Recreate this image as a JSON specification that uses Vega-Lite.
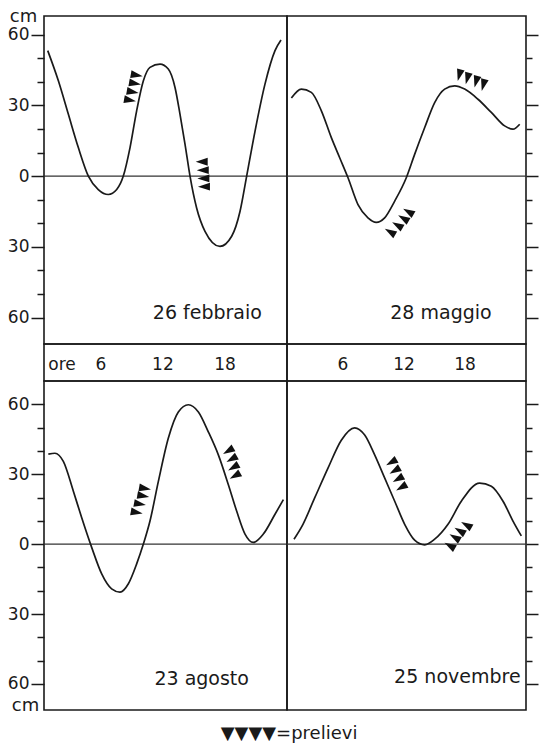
{
 "$schema": "https://vega.github.io/schema/vega-lite/v6.json",
 "background": "white",
 "padding": {"left": 6, "top": 6, "right": 5, "bottom": 4},
 "columns": 2,
 "spacing": 0,
 "bounds": "flush",
 "align": "each",
 "title": {"text": "▼▼▼▼=prelievi", "orient": "bottom", "anchor": "middle", "fontSize": 18, "fontWeight": "normal", "font": "DejaVu Sans", "offset": 10, "dx": 16, "color": "#1a1a1a"},
 "datasets": {
  "tide": [
   {"p":"feb","h":0.86,"v":53.2},{"p":"feb","h":1.89,"v":40.4},{"p":"feb","h":2.85,"v":26.3},{"p":"feb","h":3.82,"v":12.1},{"p":"feb","h":4.79,"v":0},{"p":"feb","h":5.75,"v":-5.7},{"p":"feb","h":6.72,"v":-7.8},{"p":"feb","h":7.53,"v":-5.7},{"p":"feb","h":8.17,"v":0},{"p":"feb","h":8.82,"v":12.1},{"p":"feb","h":9.46,"v":27.7},{"p":"feb","h":10.11,"v":40.4},{"p":"feb","h":10.75,"v":46.1},{"p":"feb","h":11.72,"v":47.5},{"p":"feb","h":12.52,"v":45.4},{"p":"feb","h":13.17,"v":37.6},{"p":"feb","h":13.65,"v":26.3},{"p":"feb","h":14.14,"v":13.5},{"p":"feb","h":14.62,"v":0},{"p":"feb","h":15.26,"v":-13.5},{"p":"feb","h":16.07,"v":-23.4},{"p":"feb","h":17.52,"v":-29.8},{"p":"feb","h":18.65,"v":-25.5},{"p":"feb","h":19.46,"v":-14.9},{"p":"feb","h":20.1,"v":0},{"p":"feb","h":20.91,"v":19.1},{"p":"feb","h":21.87,"v":39.0},{"p":"feb","h":22.84,"v":53.2},{"p":"feb","h":23.42,"v":57.7},
   {"p":"may","h":0.93,"v":33.1},{"p":"may","h":1.91,"v":36.9},{"p":"may","h":2.89,"v":35.5},{"p":"may","h":3.88,"v":27.7},{"p":"may","h":4.86,"v":16.3},{"p":"may","h":5.68,"v":7.8},{"p":"may","h":6.5,"v":-0.7},{"p":"may","h":7.48,"v":-12.1},{"p":"may","h":8.46,"v":-17.7},{"p":"may","h":9.28,"v":-19.6},{"p":"may","h":10.1,"v":-17.7},{"p":"may","h":11.09,"v":-10.6},{"p":"may","h":12.23,"v":-0.7},{"p":"may","h":13.05,"v":9.2},{"p":"may","h":14.04,"v":20.6},{"p":"may","h":15.02,"v":31.2},{"p":"may","h":16.0,"v":36.9},{"p":"may","h":16.99,"v":38.3},{"p":"may","h":17.97,"v":36.9},{"p":"may","h":19.28,"v":32.6},{"p":"may","h":20.59,"v":27.0},{"p":"may","h":21.9,"v":21.3},{"p":"may","h":22.72,"v":19.9},{"p":"may","h":23.38,"v":22.0},
   {"p":"aug","h":0.92,"v":38.6},{"p":"aug","h":1.56,"v":39.0},{"p":"aug","h":2.37,"v":35.5},{"p":"aug","h":3.34,"v":22.7},{"p":"aug","h":4.14,"v":11.4},{"p":"aug","h":5.11,"v":-1.4},{"p":"aug","h":6.08,"v":-12.8},{"p":"aug","h":7.04,"v":-19.2},{"p":"aug","h":7.85,"v":-20.6},{"p":"aug","h":8.66,"v":-17.0},{"p":"aug","h":9.46,"v":-8.5},{"p":"aug","h":10.11,"v":0},{"p":"aug","h":10.75,"v":9.9},{"p":"aug","h":11.56,"v":26.9},{"p":"aug","h":12.52,"v":45.4},{"p":"aug","h":13.49,"v":56.7},{"p":"aug","h":14.46,"v":59.8},{"p":"aug","h":15.43,"v":56.7},{"p":"aug","h":16.39,"v":48.2},{"p":"aug","h":17.36,"v":38.3},{"p":"aug","h":18.33,"v":25.5},{"p":"aug","h":19.13,"v":14.2},{"p":"aug","h":19.94,"v":4.3},{"p":"aug","h":20.74,"v":0.7},{"p":"aug","h":21.71,"v":4.3},{"p":"aug","h":22.84,"v":12.8},{"p":"aug","h":23.65,"v":19.1},
   {"p":"nov","h":1.19,"v":2.1},{"p":"nov","h":2.07,"v":8.5},{"p":"nov","h":3.22,"v":19.8},{"p":"nov","h":4.53,"v":32.6},{"p":"nov","h":5.84,"v":44.6},{"p":"nov","h":7.15,"v":49.9},{"p":"nov","h":8.14,"v":46.8},{"p":"nov","h":9.12,"v":38.3},{"p":"nov","h":10.1,"v":28.4},{"p":"nov","h":11.09,"v":18.4},{"p":"nov","h":12.07,"v":8.5},{"p":"nov","h":13.05,"v":1.7},{"p":"nov","h":14.04,"v":-0.3},{"p":"nov","h":15.02,"v":2.1},{"p":"nov","h":16.33,"v":8.5},{"p":"nov","h":17.64,"v":18.4},{"p":"nov","h":19.44,"v":26.2},{"p":"nov","h":20.59,"v":24.8},{"p":"nov","h":21.74,"v":18.4},{"p":"nov","h":22.72,"v":9.9},{"p":"nov","h":23.54,"v":3.5}
  ],
  "marks": [
   {"p":"feb","dir":"right","h":9.47,"v":42.8},{"p":"feb","dir":"right","h":9.30,"v":39.3},{"p":"feb","dir":"right","h":9.08,"v":35.7},{"p":"feb","dir":"right","h":8.82,"v":32.2},
   {"p":"feb","dir":"left","h":15.75,"v":6.1},{"p":"feb","dir":"left","h":15.85,"v":2.5},{"p":"feb","dir":"left","h":15.91,"v":-1.0},{"p":"feb","dir":"left","h":15.97,"v":-4.5},
   {"p":"may","dir":"down","h":17.44,"v":42.8},{"p":"may","dir":"down","h":18.23,"v":41.4},{"p":"may","dir":"down","h":19.09,"v":40.0},{"p":"may","dir":"down","h":19.8,"v":38.6},
   {"p":"may","dir":"upleft","h":10.63,"v":-23.6},{"p":"may","dir":"upleft","h":11.35,"v":-20.8},{"p":"may","dir":"upleft","h":11.94,"v":-17.9},{"p":"may","dir":"upleft","h":12.43,"v":-15.1},
   {"p":"aug","dir":"right","h":10.27,"v":23.9},{"p":"aug","dir":"right","h":10.1,"v":20.7},{"p":"aug","dir":"right","h":9.78,"v":17.2},{"p":"aug","dir":"right","h":9.47,"v":13.6},
   {"p":"aug","dir":"downleft","h":18.32,"v":40.0},{"p":"aug","dir":"downleft","h":18.65,"v":36.5},{"p":"aug","dir":"downleft","h":18.81,"v":32.9},{"p":"aug","dir":"downleft","h":18.97,"v":29.3},
   {"p":"nov","dir":"downleft","h":10.76,"v":35.1},{"p":"nov","dir":"downleft","h":11.09,"v":31.5},{"p":"nov","dir":"downleft","h":11.41,"v":27.9},{"p":"nov","dir":"downleft","h":11.74,"v":24.3},
   {"p":"nov","dir":"upleft","h":18.13,"v":8.2},{"p":"nov","dir":"upleft","h":17.48,"v":5.7},{"p":"nov","dir":"upleft","h":16.99,"v":2.9},{"p":"nov","dir":"upleft","h":16.5,"v":-0.7}
  ],
  "labels": [
   {"p":"feb","h":16.3,"v":-58,"text":"26 febbraio"},
   {"p":"may","h":15.64,"v":-58,"text":"28 maggio"},
   {"p":"aug","h":15.75,"v":-58,"text":"23 agosto"},
   {"p":"nov","h":17.25,"v":-57,"text":"25 novembre"}
  ],
  "strip": [
   {"p":"sl","h":2.24,"text":"ore"},{"p":"sl","h":6,"text":"6"},{"p":"sl","h":12,"text":"12"},{"p":"sl","h":18,"text":"18"},
   {"p":"sr","h":6,"text":"6"},{"p":"sr","h":12,"text":"12"},{"p":"sr","h":18,"text":"18"}
  ]
 },
 "concat": [
  {
   "width": 243, "height": 328,
   "resolve": {"axis": {"y": "independent"}},
   "layer": [
    {"data":{"values":[{}]},"mark":{"type":"rule","color":"#333333","strokeWidth":1.3},"encoding":{"y":{"datum":0,"type":"quantitative","scale":{"domain":[-71.2,67.9],"nice":false,"zero":false},"axis":null}}},
    {"data":{"name":"tide"},"transform":[{"filter":"datum.p === 'feb'"}],"mark":{"type":"line","interpolate":"monotone","color":"#1a1a1a","strokeWidth":1.7},
     "encoding":{"x":{"field":"h","type":"quantitative","scale":{"domain":[0.5,24],"nice":false,"zero":false},"axis":null},
      "y":{"field":"v","type":"quantitative","scale":{"domain":[-71.2,67.9],"nice":false,"zero":false},
       "axis":{"orient":"left","values":[-60,-30,0,30,60],"labelExpr":"format(abs(datum.value),'d')","tickSize":13,"labelPadding":2,"labelOverlap":false,"labelFlush":false,"domain":false,"grid":false,"labelFontSize":17,"labelColor":"#1a1a1a","tickColor":"#1a1a1a","tickWidth":1.5,"title":"cm","titleAngle":0,"titleX":-21,"titleY":0,"titleAlign":"center","titleBaseline":"middle","titleFontWeight":"normal","titleFontSize":18,"titleColor":"#1a1a1a"}}}},
    {"data":{"name":"marks"},"transform":[{"filter":"datum.p === 'feb'"}],"mark":{"type":"point","shape":"M0,1L-0.65,-1L0.65,-1Z","filled":true,"color":"#111111","size":144,"opacity":1},
     "encoding":{"x":{"field":"h","type":"quantitative","scale":{"domain":[0.5,24],"nice":false,"zero":false},"axis":null},
      "y":{"field":"v","type":"quantitative","scale":{"domain":[-71.2,67.9],"nice":false,"zero":false},
       "axis":{"orient":"left","values":[-50,-40,-20,-10,10,20,40,50],"labels":false,"tickSize":7,"domain":false,"grid":false,"tickColor":"#1a1a1a","tickWidth":1.5,"title":null}},
      "angle":{"field":"dir","type":"nominal","scale":{"type":"ordinal","domain":["down","downleft","left","upleft","right"],"range":[15,60,90,120,280]},"legend":null}}},
    {"data":{"name":"labels"},"transform":[{"filter":"datum.p === 'feb'"}],"mark":{"type":"text","fontSize":19,"align":"center","baseline":"middle","color":"#1a1a1a"},
     "encoding":{"x":{"field":"h","type":"quantitative","scale":{"domain":[0.5,24],"nice":false,"zero":false},"axis":null},
      "y":{"field":"v","type":"quantitative","scale":{"domain":[-71.2,67.9],"nice":false,"zero":false},"axis":null},
      "text":{"field":"text","type":"nominal"}}}
   ]
  },
  {
   "width": 239, "height": 328,
   "resolve": {"axis": {"y": "independent"}},
   "layer": [
    {"data":{"values":[{}]},"mark":{"type":"rule","color":"#333333","strokeWidth":1.3},"encoding":{"y":{"datum":0,"type":"quantitative","scale":{"domain":[-71.2,67.9],"nice":false,"zero":false},"axis":null}}},
    {"data":{"name":"tide"},"transform":[{"filter":"datum.p === 'may'"}],"mark":{"type":"line","interpolate":"monotone","color":"#1a1a1a","strokeWidth":1.7},
     "encoding":{"x":{"field":"h","type":"quantitative","scale":{"domain":[0.5,24],"nice":false,"zero":false},"axis":null},
      "y":{"field":"v","type":"quantitative","scale":{"domain":[-71.2,67.9],"nice":false,"zero":false},
       "axis":{"orient":"right","values":[-60,-30,0,30,60],"labels":false,"tickSize":12,"domain":false,"grid":false,"tickColor":"#1a1a1a","tickWidth":1.5,"title":null}}}},
    {"data":{"name":"marks"},"transform":[{"filter":"datum.p === 'may'"}],"mark":{"type":"point","shape":"M0,1L-0.65,-1L0.65,-1Z","filled":true,"color":"#111111","size":144,"opacity":1},
     "encoding":{"x":{"field":"h","type":"quantitative","scale":{"domain":[0.5,24],"nice":false,"zero":false},"axis":null},
      "y":{"field":"v","type":"quantitative","scale":{"domain":[-71.2,67.9],"nice":false,"zero":false},
       "axis":{"orient":"right","values":[-50,-40,-20,-10,10,20,40,50],"labels":false,"tickSize":6,"domain":false,"grid":false,"tickColor":"#1a1a1a","tickWidth":1.5,"title":null}},
      "angle":{"field":"dir","type":"nominal","scale":{"type":"ordinal","domain":["down","downleft","left","upleft","right"],"range":[15,60,90,120,280]},"legend":null}}},
    {"data":{"name":"labels"},"transform":[{"filter":"datum.p === 'may'"}],"mark":{"type":"text","fontSize":19,"align":"center","baseline":"middle","color":"#1a1a1a"},
     "encoding":{"x":{"field":"h","type":"quantitative","scale":{"domain":[0.5,24],"nice":false,"zero":false},"axis":null},
      "y":{"field":"v","type":"quantitative","scale":{"domain":[-71.2,67.9],"nice":false,"zero":false},"axis":null},
      "text":{"field":"text","type":"nominal"}}}
   ]
  },
  {
   "width": 243, "height": 37,
   "data":{"name":"strip"},"transform":[{"filter":"datum.p === 'sl'"}],
   "mark":{"type":"text","fontSize":17,"align":"center","baseline":"middle","dy":2,"color":"#1a1a1a"},
   "encoding":{"x":{"field":"h","type":"quantitative","scale":{"domain":[0.5,24],"nice":false,"zero":false},"axis":null},"text":{"field":"text","type":"nominal"}}
  },
  {
   "width": 239, "height": 37,
   "data":{"name":"strip"},"transform":[{"filter":"datum.p === 'sr'"}],
   "mark":{"type":"text","fontSize":17,"align":"center","baseline":"middle","dy":2,"color":"#1a1a1a"},
   "encoding":{"x":{"field":"h","type":"quantitative","scale":{"domain":[0.5,24],"nice":false,"zero":false},"axis":null},"text":{"field":"text","type":"nominal"}}
  },
  {
   "width": 243, "height": 329,
   "resolve": {"axis": {"y": "independent"}},
   "layer": [
    {"data":{"values":[{}]},"mark":{"type":"rule","color":"#333333","strokeWidth":1.3},"encoding":{"y":{"datum":0,"type":"quantitative","scale":{"domain":[-71.2,70],"nice":false,"zero":false},"axis":null}}},
    {"data":{"name":"tide"},"transform":[{"filter":"datum.p === 'aug'"}],"mark":{"type":"line","interpolate":"monotone","color":"#1a1a1a","strokeWidth":1.7},
     "encoding":{"x":{"field":"h","type":"quantitative","scale":{"domain":[0.5,24],"nice":false,"zero":false},"axis":null},
      "y":{"field":"v","type":"quantitative","scale":{"domain":[-71.2,70],"nice":false,"zero":false},
       "axis":{"orient":"left","values":[-60,-30,0,30,60],"labelExpr":"format(abs(datum.value),'d')","tickSize":13,"labelPadding":2,"labelOverlap":false,"labelFlush":false,"domain":false,"grid":false,"labelFontSize":17,"labelColor":"#1a1a1a","tickColor":"#1a1a1a","tickWidth":1.5,"title":"cm","titleAngle":0,"titleX":-19,"titleY":324,"titleAlign":"center","titleBaseline":"middle","titleFontWeight":"normal","titleFontSize":18,"titleColor":"#1a1a1a"}}}},
    {"data":{"name":"marks"},"transform":[{"filter":"datum.p === 'aug'"}],"mark":{"type":"point","shape":"M0,1L-0.65,-1L0.65,-1Z","filled":true,"color":"#111111","size":144,"opacity":1},
     "encoding":{"x":{"field":"h","type":"quantitative","scale":{"domain":[0.5,24],"nice":false,"zero":false},"axis":null},
      "y":{"field":"v","type":"quantitative","scale":{"domain":[-71.2,70],"nice":false,"zero":false},
       "axis":{"orient":"left","values":[-50,-40,-20,-10,10,20,40,50],"labels":false,"tickSize":7,"domain":false,"grid":false,"tickColor":"#1a1a1a","tickWidth":1.5,"title":null}},
      "angle":{"field":"dir","type":"nominal","scale":{"type":"ordinal","domain":["down","downleft","left","upleft","right"],"range":[15,60,90,120,280]},"legend":null}}},
    {"data":{"name":"labels"},"transform":[{"filter":"datum.p === 'aug'"}],"mark":{"type":"text","fontSize":19,"align":"center","baseline":"middle","color":"#1a1a1a"},
     "encoding":{"x":{"field":"h","type":"quantitative","scale":{"domain":[0.5,24],"nice":false,"zero":false},"axis":null},
      "y":{"field":"v","type":"quantitative","scale":{"domain":[-71.2,70],"nice":false,"zero":false},"axis":null},
      "text":{"field":"text","type":"nominal"}}}
   ]
  },
  {
   "width": 239, "height": 329,
   "resolve": {"axis": {"y": "independent"}},
   "layer": [
    {"data":{"values":[{}]},"mark":{"type":"rule","color":"#333333","strokeWidth":1.3},"encoding":{"y":{"datum":0,"type":"quantitative","scale":{"domain":[-71.2,70],"nice":false,"zero":false},"axis":null}}},
    {"data":{"name":"tide"},"transform":[{"filter":"datum.p === 'nov'"}],"mark":{"type":"line","interpolate":"monotone","color":"#1a1a1a","strokeWidth":1.7},
     "encoding":{"x":{"field":"h","type":"quantitative","scale":{"domain":[0.5,24],"nice":false,"zero":false},"axis":null},
      "y":{"field":"v","type":"quantitative","scale":{"domain":[-71.2,70],"nice":false,"zero":false},
       "axis":{"orient":"right","values":[-60,-30,0,30,60],"labels":false,"tickSize":12,"domain":false,"grid":false,"tickColor":"#1a1a1a","tickWidth":1.5,"title":null}}}},
    {"data":{"name":"marks"},"transform":[{"filter":"datum.p === 'nov'"}],"mark":{"type":"point","shape":"M0,1L-0.65,-1L0.65,-1Z","filled":true,"color":"#111111","size":144,"opacity":1},
     "encoding":{"x":{"field":"h","type":"quantitative","scale":{"domain":[0.5,24],"nice":false,"zero":false},"axis":null},
      "y":{"field":"v","type":"quantitative","scale":{"domain":[-71.2,70],"nice":false,"zero":false},
       "axis":{"orient":"right","values":[-50,-40,-20,-10,10,20,40,50],"labels":false,"tickSize":6,"domain":false,"grid":false,"tickColor":"#1a1a1a","tickWidth":1.5,"title":null}},
      "angle":{"field":"dir","type":"nominal","scale":{"type":"ordinal","domain":["down","downleft","left","upleft","right"],"range":[15,60,90,120,280]},"legend":null}}},
    {"data":{"name":"labels"},"transform":[{"filter":"datum.p === 'nov'"}],"mark":{"type":"text","fontSize":19,"align":"center","baseline":"middle","color":"#1a1a1a"},
     "encoding":{"x":{"field":"h","type":"quantitative","scale":{"domain":[0.5,24],"nice":false,"zero":false},"axis":null},
      "y":{"field":"v","type":"quantitative","scale":{"domain":[-71.2,70],"nice":false,"zero":false},"axis":null},
      "text":{"field":"text","type":"nominal"}}}
   ]
  }
 ],
 "config": {
  "view": {"stroke": "#1a1a1a", "strokeWidth": 1.6},
  "font": "DejaVu Sans",
  "axis": {"labelFont": "DejaVu Sans", "titleFont": "DejaVu Sans"},
  "text": {"font": "DejaVu Sans"}
 }
}
